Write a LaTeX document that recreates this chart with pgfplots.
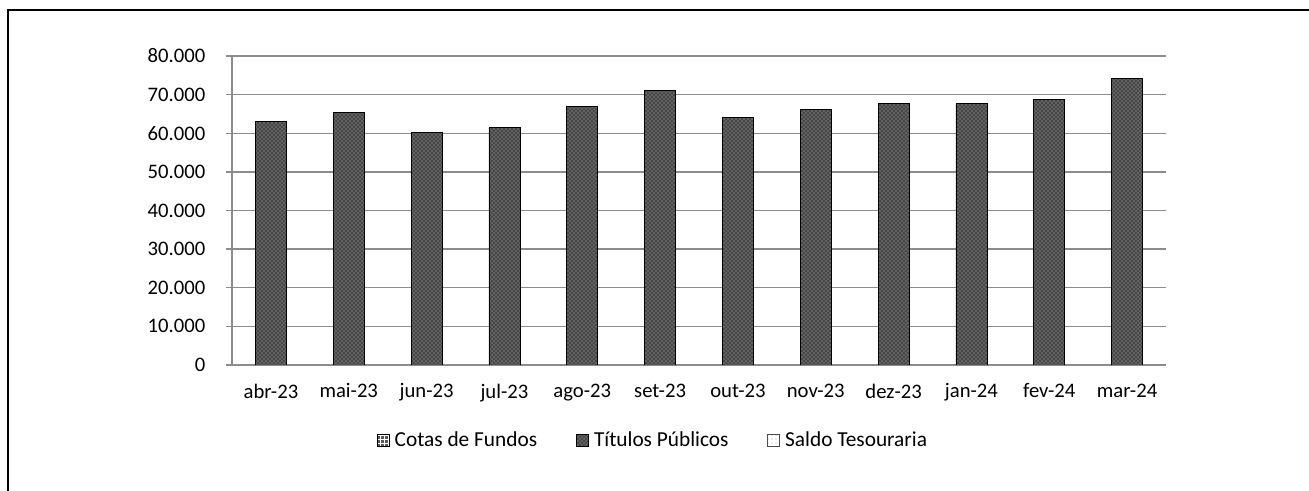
\documentclass[border=0pt]{standalone}
\usepackage{pgfplots}
\pgfplotsset{compat=1.18}
\usepackage{fontspec}
\setmainfont{Carlito}
\usetikzlibrary{patterns}
\definecolor{gridc}{RGB}{140,140,140}
\begin{document}
\begin{tikzpicture}
\useasboundingbox (0,0) rectangle (981.75pt,368.25pt);
\draw[line width=1.5pt] (6pt,-20pt) -- (6pt,361.1pt) -- (1000pt,361.1pt);
\begin{axis}[
  at={(174pt,94.5pt)}, anchor=south west,
  scale only axis, width=700.5pt, height=231.75pt,
  ymin=0, ymax=80000,
  ytick={0,10000,...,80000},
  xmin=-0.5, xmax=11.5,
  xtick={0,...,11},
  xticklabels={abr-23,mai-23,jun-23,jul-23,ago-23,set-23,out-23,nov-23,dez-23,jan-24,fev-24,mar-24},
  extra x ticks={-0.5,0.5,...,11.5},
  extra x tick labels={},
  extra x tick style={major tick length=5pt, tick style={gridc, line width=1pt}, xmajorgrids=false},
  x tick style={draw=none},
  ymajorgrids, grid style={gridc, line width=1.1pt},
  axis x line*=bottom, axis y line*=left,
  axis line style={gridc, line width=1.1pt, -},
  y tick style={gridc, line width=1pt},
  major tick length=4.5pt,
  tick align=outside,
  scaled y ticks=false,
  /pgf/number format/.cd, 1000 sep={.}, assume math mode=true,
  /pgfplots/.cd,
  tick label style={font=\fontsize{15.5}{18}\selectfont, black},
  yticklabel style={xshift=-12pt},
  xticklabel style={yshift=-6pt},
  ybar stacked, bar width=23.25pt,
  legend style={at={(0.451,-0.243)}, anchor=center, draw=none, legend columns=3,
    font=\fontsize{16}{18}\selectfont, column sep=2pt,
    /tikz/every even column/.append style={column sep=27pt}},
  legend image code/.code={\draw[#1] (0pt,-4.5pt) rectangle (9pt,4.5pt);},
]
\addlegendimage{draw=black, fill=black!65, postaction={pattern=grid, pattern color=white!70}}
\addlegendentry{Cotas de Fundos}
\addplot[draw=black, line width=0.6pt, fill=black!72, postaction={pattern=crosshatch dots, pattern color=white!75!black}] coordinates {
(0,63100) (1,65400) (2,60200) (3,61400) (4,67000) (5,71000)
(6,64000) (7,66200) (8,67700) (9,67600) (10,68800) (11,74200)};
\addlegendentry{Títulos Públicos}
\addlegendimage{draw=black!70, fill=white, postaction={pattern=dots, pattern color=black!40}}
\addlegendentry{Saldo Tesouraria}
\end{axis}
\end{tikzpicture}
\end{document}
